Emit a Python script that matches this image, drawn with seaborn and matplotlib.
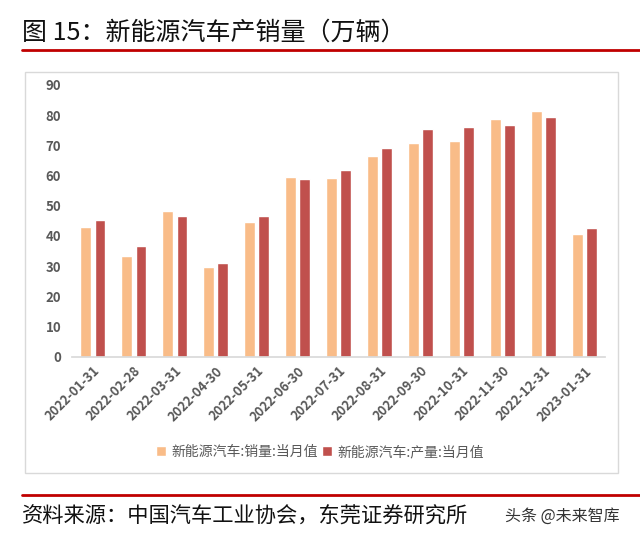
import pandas as pd
import matplotlib.pyplot as plt
import seaborn as sns
from matplotlib.lines import Line2D
from matplotlib.patches import Rectangle

# monthly values (万辆)
months = ['2022-01-31', '2022-02-28', '2022-03-31', '2022-04-30', '2022-05-31',
          '2022-06-30', '2022-07-31', '2022-08-31', '2022-09-30', '2022-10-31',
          '2022-11-30', '2022-12-31', '2023-01-31']
sales = [43.1, 33.4, 48.4, 29.9, 44.7, 59.6, 59.3, 66.6, 70.8, 71.4, 78.6, 81.4, 40.8]
production = [45.2, 36.8, 46.5, 31.2, 46.6, 59.0, 61.7, 69.1, 75.5, 76.2, 76.8, 79.5, 42.5]
series_names = ['新能源汽车:销量:当月值', '新能源汽车:产量:当月值']
colors = ['#F9BC88', '#C0504D']

df = pd.DataFrame({
    'date': months * 2,
    'value': sales + production,
    'series': [series_names[0]] * len(months) + [series_names[1]] * len(months),
})

sns.set_theme(style='white')
plt.rcParams['font.family'] = ['Noto Sans CJK SC', 'DejaVu Sans']

fig = plt.figure(figsize=(6.4, 5.4), dpi=100)

# light grey frame around the chart
fig.add_artist(Rectangle((0.039, 0.124), 0.927, 0.743, transform=fig.transFigure,
                         fill=False, edgecolor='#D9D9D9', linewidth=1))

ax = fig.add_axes([0.113, 0.339, 0.832, 0.504])
sns.barplot(data=df, x='date', y='value', hue='series', palette=colors,
            width=0.7, gap=0.25, ax=ax, saturation=1)

ax.set_ylim(0, 90)
ax.set_xlim(-0.5, len(months) - 0.5)
ax.set_yticks(range(0, 91, 10))
ax.set_xlabel('')
ax.set_ylabel('')
for side in ['top', 'right', 'left']:
    ax.spines[side].set_visible(False)
ax.spines['bottom'].set_color('#D9D9D9')
ax.tick_params(axis='both', length=0)
ax.tick_params(axis='y', labelsize=9.5, labelcolor='#595959', pad=8)
ax.tick_params(axis='x', labelsize=9.3, labelcolor='#595959', pad=5)
for lbl in ax.get_yticklabels():
    lbl.set_fontweight('bold')
plt.setp(ax.get_xticklabels(), rotation=45, ha='right', rotation_mode='anchor',
         fontweight='bold')

handles, labels = ax.get_legend_handles_labels()
ax.legend(handles, labels, loc='center', bbox_to_anchor=(0.5, 0.163),
          bbox_transform=fig.transFigure, ncol=2, frameon=False, fontsize=10,
          handlelength=0.7, handleheight=0.7, handletextpad=0.4, columnspacing=0.3,
          labelcolor='#595959')

# header / footer
fig.text(0.034, 0.94, '图 15：新能源汽车产销量（万辆）', fontsize=18, color='#111111',
         va='center', ha='left')
fig.add_artist(Line2D([0.034, 1.0], [0.907, 0.907], transform=fig.transFigure,
                      color='#C00000', linewidth=2))
fig.add_artist(Line2D([0.034, 1.0], [0.083, 0.083], transform=fig.transFigure,
                      color='#C00000', linewidth=2))
fig.text(0.034, 0.043, '资料来源：中国汽车工业协会，东莞证券研究所', fontsize=15.3,
         color='#111111', va='center', ha='left')
fig.text(0.789, 0.043, '头条 @未来智库', fontsize=11.5, color='#333333',
         va='center', ha='left')

plt.savefig('out.png', dpi=100)
plt.close()
